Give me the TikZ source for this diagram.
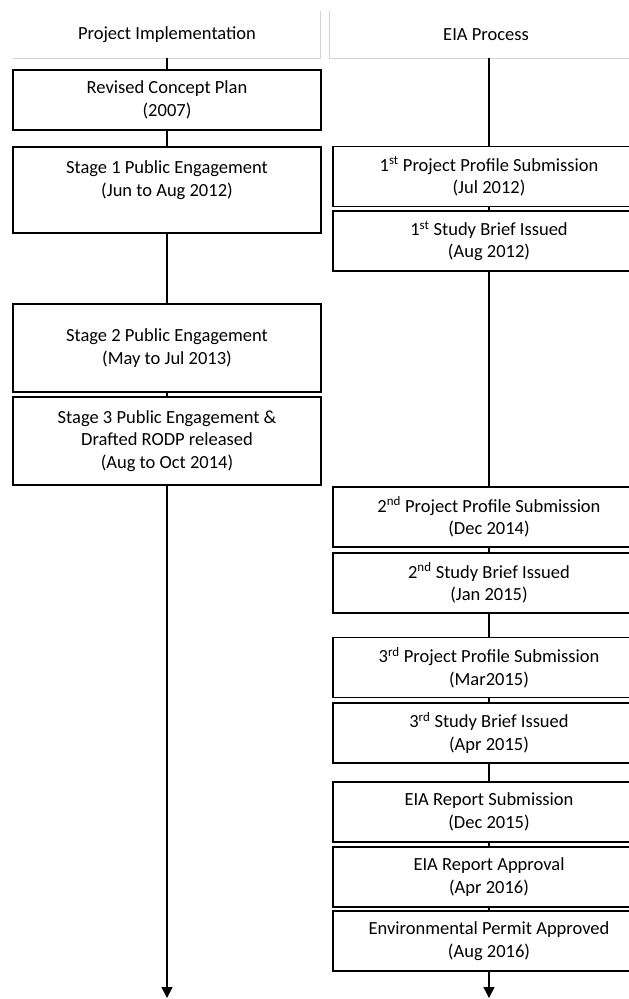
\documentclass[tikz,border=0pt]{standalone}
\usepackage{fontspec}
\setmainfont{Carlito}
\usetikzlibrary{arrows.meta}
\begin{document}
\begin{tikzpicture}[
    x=1pt,y=-1pt,
    stagebox/.style={draw,line width=1.6pt,align=center,inner sep=0pt,minimum width=308pt,font=\fontsize{18.5}{22.5}\selectfont},
    eiabox/.style={draw,line width=1.6pt,align=center,inner sep=0pt,minimum width=312pt,minimum height=60pt,font=\fontsize{18.5}{22.5}\selectfont},
    colhead/.style={font=\fontsize{18.5}{22.5}\selectfont},
    flow/.style={line width=1.6pt},
    flowend/.style={flow,-{Triangle[width=11pt,length=11pt]}}
]
\clip (0,0) rectangle (629,999);

% column headers
\draw[gray!35,line width=0.9pt] (13,58) -- (320,58) -- (320,11);
\draw[gray!35,line width=0.9pt] (329,11) -- (329,58) -- (629,58);
\node[colhead] (PIhead)  at (167,35) {Project Implementation};
\node[colhead] (EIAhead) at (486,35) {EIA Process};
\coordinate (Ltop) at (167,58);
\coordinate (Rtop) at (489,58);

% project implementation
\node[stagebox,minimum height=60pt] (RCP) at (167,100)   {Revised Concept Plan\\(2007)};
\node[stagebox,minimum height=86pt] (S1)  at (167,190)   {Stage 1 Public Engagement\\(Jun to Aug 2012)\\\mbox{}};
\node[stagebox,minimum height=88pt] (S2)  at (167,348)   {Stage 2 Public Engagement\\(May to Jul 2013)};
\node[stagebox,minimum height=88pt] (S3)  at (167,441)   {Stage 3 Public Engagement \&\\Drafted RODP released\\(Aug to Oct 2014)};
\coordinate (Lend) at (167,998);

% EIA process
\node[eiabox] (PP1)  at (489,176.5) {1\textsuperscript{st} Project Profile Submission\\(Jul 2012)};
\node[eiabox] (SB1)  at (489,241)   {1\textsuperscript{st} Study Brief Issued\\(Aug 2012)};
\node[eiabox] (PP2)  at (489,517)   {2\textsuperscript{nd} Project Profile Submission\\(Dec 2014)};
\node[eiabox] (SB2)  at (489,583)   {2\textsuperscript{nd} Study Brief Issued\\(Jan 2015)};
\node[eiabox] (PP3)  at (489,667.5) {3\textsuperscript{rd} Project Profile Submission\\(Mar2015)};
\node[eiabox] (SB3)  at (489,733)   {3\textsuperscript{rd} Study Brief Issued\\(Apr 2015)};
\node[eiabox] (RepS) at (489,812)   {EIA Report Submission\\(Dec 2015)};
\node[eiabox] (RepA) at (489,877)   {EIA Report Approval\\(Apr 2016)};
\node[eiabox] (EP)   at (489,941)   {Environmental Permit Approved\\(Aug 2016)};
\coordinate (Rend) at (489,998);

\draw[flow] (Ltop) -- (RCP);
\draw[flow] (RCP) -- (S1);
\draw[flow] (S1) -- (S2);
\draw[flow] (S2) -- (S3);
\draw[flowend] (S3) -- (Lend);

\draw[flow] (Rtop) -- (PP1);
\draw[flow] (PP1) -- (SB1);
\draw[flow] (SB1) -- (PP2);
\draw[flow] (PP2) -- (SB2);
\draw[flow] (SB2) -- (PP3);
\draw[flow] (PP3) -- (SB3);
\draw[flow] (SB3) -- (RepS);
\draw[flow] (RepS) -- (RepA);
\draw[flow] (RepA) -- (EP);
\draw[flowend] (EP) -- (Rend);
\end{tikzpicture}
\end{document}
